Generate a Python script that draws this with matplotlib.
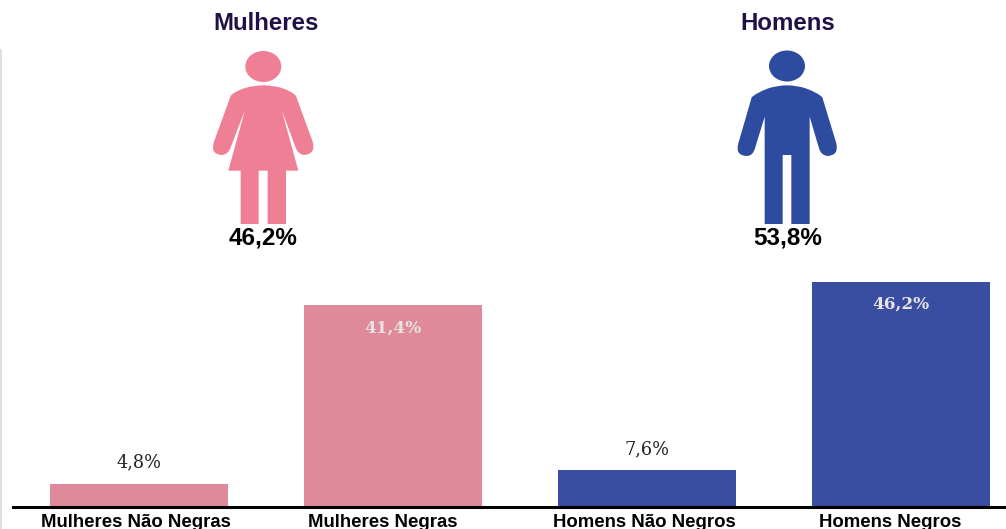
import matplotlib
matplotlib.use("Agg")
import matplotlib.pyplot as plt
from matplotlib.path import Path
from matplotlib.patches import PathPatch, Ellipse

W, H = 1006, 529

categories = ["Mulheres Não Negras", "Mulheres Negras", "Homens Não Negros", "Homens Negros"]
values = [4.8, 41.4, 7.6, 46.2]
value_labels = ["4,8%", "41,4%", "7,6%", "46,2%"]
bar_colors = ["#DF8A9A", "#DF8A9A", "#394DA1", "#394DA1"]
group_names = ["Mulheres", "Homens"]
group_labels = ["46,2%", "53,8%"]
label_x = [136, 383, 644, 890]  # rotulos nao ficam centrados nas barras

M, L, C = Path.MOVETO, Path.LINETO, Path.CURVE3

# contornos dos icones, em px do zoom 3x
WOMAN = [(M, (122, 288)), (C, (130, 276)), (C, (165, 264)), (C, (190, 256)), (C, (220, 256)),
         (C, (250, 256)), (C, (275, 264)), (C, (310, 276)), (C, (318, 288)), (L, (368, 425)),
         (C, (378, 462)), (C, (342, 465)), (C, (322, 462)), (C, (316, 440)),
         (L, (275, 330)), (L, (325, 512)), (L, (288, 512)), (L, (288, 672)),
         (L, (233, 672)), (L, (233, 512)), (L, (206, 512)), (L, (206, 672)),
         (L, (152, 672)), (L, (152, 512)), (L, (115, 512)), (L, (165, 330)),
         (L, (122, 442)), (C, (114, 465)), (C, (94, 465)), (C, (60, 462)),
         (C, (72, 425)), (L, (122, 288))]
MAN = [(M, (110, 292)), (C, (125, 278)), (C, (160, 265)), (C, (188, 256)), (C, (216, 256)),
       (C, (245, 256)), (C, (272, 265)), (C, (308, 278)), (C, (322, 292)), (L, (364, 430)),
       (C, (372, 466)), (C, (338, 468)), (C, (318, 466)), (C, (312, 445)),
       (L, (284, 350)), (L, (284, 672)), (L, (229, 672)), (L, (229, 465)),
       (L, (203, 465)), (L, (203, 672)), (L, (149, 672)), (L, (149, 350)),
       (L, (120, 445)), (C, (114, 468)), (C, (94, 468)), (C, (60, 466)),
       (C, (70, 430)), (L, (110, 292))]


def icon_patch(shape, ox, color):
    codes = [s[0] for s in shape]
    verts = [(ox + s[1][0] / 3, s[1][1] / 3) for s in shape]
    return PathPatch(Path(verts, codes), facecolor=color, edgecolor="none")


plt.rcParams["font.family"] = ["Liberation Sans", "DejaVu Sans"]
fig = plt.figure(figsize=(W / 100, H / 100), dpi=100, facecolor="white")

# barras: base em y=507 px, 4.87 px por ponto percentual
ax = fig.add_axes([12.5 / W, (H - 507) / H, (W - 12.5) / W, 243.5 / H])
ax.bar(range(4), values, width=0.70, color=bar_colors)
ax.set_xlim(-0.498, 3.413)
ax.set_ylim(0, 50)
ax.set_yticks([])
ax.set_xticks([])
for s in ["top", "left", "right"]:
    ax.spines[s].set_visible(False)
ax.spines["bottom"].set_linewidth(2.2)
ax.patch.set_alpha(0)
for i, (v, t) in enumerate(zip(values, value_labels)):
    if v > 20:
        ax.annotate(t, (i, v), textcoords="offset points", xytext=(0, -16), ha="center",
                    va="center", fontsize=12.2, fontweight="bold", color="#E9E2E4",
                    family="DejaVu Serif")
    else:
        ax.annotate(t, (i, v), textcoords="offset points", xytext=(0, 15), ha="center",
                    va="center", fontsize=12.8, color="#222222", family="DejaVu Serif")

# camada em px para icones e titulos
top = fig.add_axes([0, 0, 1, 1])
top.set_xlim(0, W)
top.set_ylim(H, 0)
top.axis("off")
top.patch.set_alpha(0)
top.plot([0.5, 0.5], [50, H], color="#D9D9D9", lw=1.2)

top.add_patch(Ellipse((263.3, 66.5), 36, 31, facecolor="#EE7F94", edgecolor="none"))
top.add_patch(icon_patch(WOMAN, 190, "#EE7F94"))
top.add_patch(Ellipse((787, 66), 36, 31, facecolor="#2E4C9F", edgecolor="none"))
top.add_patch(icon_patch(MAN, 715, "#2E4C9F"))

for x, name in zip([266, 787.5], group_names):
    top.text(x, 23, name, ha="center", va="center", fontsize=17.3,
             fontweight="bold", color="#1F1147")
for x, lab in zip([263.5, 787.5], group_labels):
    top.text(x, 238.5, lab, ha="center", va="center", fontsize=17.5,
             fontweight="bold", color="black")
for x, cat in zip(label_x, categories):
    top.text(x, 527, cat, ha="center", va="baseline", fontsize=13.4,
             fontweight="bold", color="black")

fig.savefig("out.png", dpi=100, facecolor="white")
